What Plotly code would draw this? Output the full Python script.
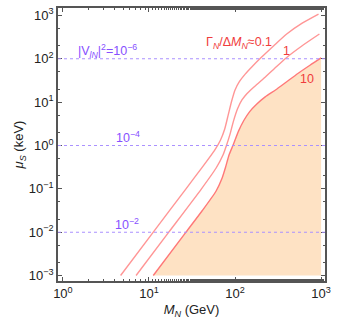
import plotly.graph_objects as go

# ---- data ----
# curve Γ_N/ΔM_N = 0.1
m_01 = [0.67, 1.05, 1.43, 1.62, 1.76, 1.83, 1.88, 1.92, 1.96, 2.00, 2.05, 2.12, 2.20, 2.30, 2.45, 2.60, 2.78, 2.97]
mu_01 = [-3.0, -2.0, -1.0, -0.5, -0.12, 0.12, 0.38, 0.70, 1.02, 1.28, 1.47, 1.65, 1.82, 2.02, 2.30, 2.57, 2.82, 3.03]
# curve Γ_N/ΔM_N = 1
m_1 = [0.85, 1.23, 1.61, 1.78, 1.86, 1.90, 1.94, 1.98, 2.03, 2.08, 2.14, 2.22, 2.32, 2.45, 2.60, 2.78, 2.98]
mu_1 = [-3.0, -2.0, -1.0, -0.52, -0.22, 0.0, 0.25, 0.55, 0.85, 1.05, 1.20, 1.35, 1.52, 1.76, 2.03, 2.30, 2.57]
# curve Γ_N/ΔM_N = 10 (boundary of shaded region)
m_10 = [1.05, 1.43, 1.62, 1.78, 1.85, 1.89, 1.93, 1.98, 2.04, 2.10, 2.17, 2.25, 2.35, 2.47, 2.60, 2.73, 2.87, 3.0]
mu_10 = [-3.0, -2.0, -1.5, -1.05, -0.75, -0.50, -0.22, 0.02, 0.33, 0.57, 0.78, 0.95, 1.12, 1.28, 1.47, 1.66, 1.85, 2.02]

region_corner = (3.0, -3.0)  # log10(M), log10(mu) of shaded region corner
hlines = [2, 0, -2]          # log10(mu) of |V|^2 contours
hline_labels = ["|V<sub><i>lN</i></sub>|<sup>2</sup>=10<sup>−6</sup>", "10<sup>−4</sup>", "10<sup>−2</sup>"]

x_ticks = [0, 1, 2, 3]
y_ticks = [-3, -2, -1, 0, 1, 2, 3]


def p(v):
    return [10 ** a for a in v]


def sup(e):
    return "10<sup>" + (str(e) if e >= 0 else "−" + str(-e)) + "</sup>"


FONT = "Liberation Sans, Arial, sans-serif"
LINE_C = "rgb(255,150,150)"
EDGE_C = "rgb(255,120,120)"
PURPLE = "rgb(170,145,255)"
LABEL_PURPLE = "rgb(135,80,255)"
LABEL_RED = "rgb(240,60,60)"

fig = go.Figure()

fig.add_trace(go.Scatter(
    x=p(m_10 + [region_corner[0]]), y=p(mu_10 + [region_corner[1]]),
    mode="lines", fill="toself", fillcolor="rgb(254,226,196)",
    line=dict(width=0), hoverinfo="skip", showlegend=False))

for xs, ys, c in [(m_01, mu_01, LINE_C), (m_1, mu_1, LINE_C), (m_10, mu_10, EDGE_C)]:
    fig.add_trace(go.Scatter(x=p(xs), y=p(ys), mode="lines",
                             line=dict(color=c, width=1.4, shape="spline", smoothing=0.6),
                             showlegend=False))

for h in hlines:
    fig.add_hline(y=10 ** h, line=dict(color=PURPLE, width=1.1, dash="dot"))

# labels
fig.add_annotation(x=0.52, y=2.18, text=hline_labels[0], showarrow=False,
                   font=dict(color=LABEL_PURPLE, size=12.5, family=FONT))
fig.add_annotation(x=0.76, y=0.2, text=hline_labels[1], showarrow=False,
                   font=dict(color=LABEL_PURPLE, size=12.5, family=FONT))
fig.add_annotation(x=0.75, y=-1.82, text=hline_labels[2], showarrow=False,
                   font=dict(color=LABEL_PURPLE, size=12.5, family=FONT))
fig.add_annotation(x=2.04, y=2.37, text="Γ<sub><i>N</i></sub>/Δ<i>M</i><sub><i>N</i></sub>≈0.1", showarrow=False,
                   font=dict(color=LABEL_RED, size=12.5, family=FONT))
fig.add_annotation(x=2.60, y=2.18, text="1", showarrow=False,
                   font=dict(color=LABEL_RED, size=12.5, family=FONT))
fig.add_annotation(x=2.84, y=1.54, text="10", showarrow=False,
                   font=dict(color=LABEL_RED, size=12.5, family=FONT))

axis_common = dict(
    showline=True, linecolor="#555", linewidth=1.5, mirror="ticks",
    ticks="inside", ticklen=4, tickcolor="#555", showgrid=False, zeroline=False,
    tickfont=dict(size=13, color="#222", family=FONT),
    minor=dict(ticks="inside", ticklen=2, tickcolor="#555", showgrid=False),
)

fig.update_xaxes(type="log", range=[-0.057, 3.045],
                 tickvals=[10 ** t for t in x_ticks], ticktext=[sup(t) for t in x_ticks],
                 title=dict(text="<i>M</i><sub><i>N</i></sub> (GeV)", font=dict(size=13, color="#222", family=FONT),
                            standoff=5),
                 **axis_common)
fig.update_yaxes(type="log", range=[-3.126, 3.17],
                 tickvals=[10 ** t for t in y_ticks], ticktext=[sup(t) for t in y_ticks],
                 title=dict(text="<i>μ</i><sub><i>S</i></sub> (keV)", font=dict(size=13, color="#222", family=FONT),
                            standoff=2),
                 **axis_common)

fig.update_layout(
    width=337, height=323,
    margin=dict(l=58, r=6, t=7, b=42),
    plot_bgcolor="white", paper_bgcolor="white",
    font=dict(family=FONT),
)

fig.write_html("out.html")
